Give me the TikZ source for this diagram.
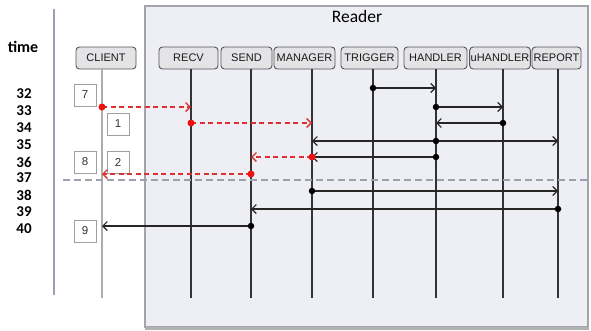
\documentclass[tikz,border=0pt]{standalone}
\usepackage{fontspec}
\setmainfont{Liberation Sans}
\newfontfamily\labelfont{Carlito}
\usetikzlibrary{arrows.meta}
\definecolor{readerfill}{HTML}{EEEFF4}
\definecolor{readerline}{HTML}{A4A4A8}
\definecolor{hdrfill}{HTML}{E4E4E6}
\definecolor{hdrline}{HTML}{55555A}
\definecolor{msgred}{HTML}{DD3030}
\definecolor{dotred}{HTML}{EE1111}
\definecolor{lifeline}{HTML}{333336}
\definecolor{axisbar}{HTML}{9AA0B2}
\definecolor{sepgray}{HTML}{A0A0AC}
\tikzset{
  hdr/.style={draw=hdrline, fill=hdrfill, rounded corners=3.5pt, line width=0.9pt,
    minimum height=22pt, inner sep=1pt, text=black!90, font=\fontsize{11}{12}\selectfont},
  numbox/.style={draw=gray!75, fill=white, line width=0.8pt, minimum width=22pt,
    minimum height=22pt, inner sep=0pt, text=black!80, font=\fontsize{11.5}{12}\selectfont},
  tick/.style={font=\labelfont\bfseries\fontsize{15}{16}\selectfont},
  life/.style={draw=lifeline, line width=1.2pt},
  msg/.style={draw=black!85, line width=1.1pt, -{Straight Barb[length=4.5pt,width=9pt]}},
  redmsg/.style={draw=msgred, line width=1.4pt, dash pattern=on 5pt off 3.5pt,
    -{Straight Barb[length=4.5pt,width=9pt]}},
  bothmsg/.style={draw=black!85, line width=1.1pt,
    {Straight Barb[length=4.5pt,width=9pt]}-{Straight Barb[length=4.5pt,width=9pt]}},
  dot/.style={circle, fill=black, inner sep=0pt, minimum size=6.5pt},
  reddot/.style={circle, fill=dotred, inner sep=0pt, minimum size=7pt},
}
\begin{document}
\begin{tikzpicture}[x=1pt,y=-1pt]
\useasboundingbox (0,0) rectangle (591,330);
\fill[white] (0,0) rectangle (591,330);

% Reader container
\draw[fill=readerfill, draw=readerline, line width=1.2pt] (145,6) rectangle (588,327);
\draw[readerline!85, line width=2.5pt] (145,328.5) -- (589,328.5);
\node[font=\labelfont\fontsize{17.5}{18}\selectfont] (reader) at (357,16) {Reader};

% time axis
\node[font=\labelfont\bfseries\fontsize{16}{17}\selectfont] (time) at (23,47) {time};
\draw[axisbar, line width=2.8pt] (54,9) -- (54,295);
\foreach \t/\y in {32/94,33/111,34/128,35/145,36/162,37/178,38/195,39/212,40/229}
  \node[tick] (t\t) at (24,\y) {\t};

% participants
\node[hdr, minimum width=60pt] (hCLIENT)   at (106,58)   {CLIENT};
\node[hdr, minimum width=59pt] (hRECV)     at (188.5,58) {RECV};
\node[hdr, minimum width=51pt] (hSEND)     at (246.5,58) {SEND};
\node[hdr, minimum width=61pt] (hMANAGER)  at (304.5,58) {MANAGER};
\node[hdr, minimum width=57pt] (hTRIGGER)  at (369.5,58) {TRIGGER};
\node[hdr, minimum width=63pt] (hHANDLER)  at (435.5,58) {HANDLER};
\node[hdr, minimum width=60pt] (huHANDLER) at (500,58)   {uHANDLER};
\node[hdr, minimum width=49pt] (hREPORT)   at (556.5,58) {REPORT};

% lifeline x positions
\coordinate (CLIENT)   at (102,0);
\coordinate (RECV)     at (191,0);
\coordinate (SEND)     at (251,0);
\coordinate (MANAGER)  at (312,0);
\coordinate (TRIGGER)  at (373,0);
\coordinate (HANDLER)  at (436,0);
\coordinate (uHANDLER) at (503,0);
\coordinate (REPORT)   at (558,0);

% rows
\coordinate (top) at (0,69);
\coordinate (bot) at (0,298);
\coordinate (r32) at (0,88);
\coordinate (r33) at (0,107);
\coordinate (r34) at (0,123);
\coordinate (r35) at (0,141);
\coordinate (r36) at (0,157);
\coordinate (r37) at (0,174);
\coordinate (r38) at (0,191);
\coordinate (r39) at (0,209);
\coordinate (r40) at (0,226);

% lifelines
\draw[gray!65, line width=2pt] (CLIENT |- top) -- (CLIENT |- bot);
\foreach \p in {RECV,SEND,MANAGER,TRIGGER,HANDLER,uHANDLER,REPORT}
  \draw[life] (\p |- top) -- (\p |- bot);

% step numbers
\node[numbox] (n7) at (85,95)  {7};
\node[numbox] (n1) at (118,124) {1};
\node[numbox] (n8) at (85,162) {8};
\node[numbox] (n2) at (118,162) {2};
\node[numbox] (n9) at (85,231) {9};

% separator
\coordinate (sepL) at (63,180);
\coordinate (sepR) at (588,180);
\draw[sepgray, line width=1.3pt, dash pattern=on 7pt off 4pt] (sepL) -- (sepR);

% black messages
\draw[msg] (TRIGGER |- r32) -- (HANDLER |- r32);
\node[dot] at (TRIGGER |- r32) {};
\draw[msg] (HANDLER |- r33) -- (uHANDLER |- r33);
\node[dot] at (HANDLER |- r33) {};
\draw[msg] (uHANDLER |- r34) -- (HANDLER |- r34);
\node[dot] at (uHANDLER |- r34) {};
\draw[bothmsg] (MANAGER |- r35) -- (REPORT |- r35);
\node[dot] at (HANDLER |- r35) {};
\draw[msg] (HANDLER |- r36) -- (MANAGER |- r36);
\node[dot] at (HANDLER |- r36) {};
\draw[msg] (MANAGER |- r38) -- (REPORT |- r38);
\node[dot] at (MANAGER |- r38) {};
\draw[msg] (REPORT |- r39) -- (SEND |- r39);
\node[dot] at (REPORT |- r39) {};
\draw[msg] (SEND |- r40) -- (CLIENT |- r40);
\node[dot] at (SEND |- r40) {};

% red dashed messages
\draw[redmsg] (CLIENT |- r33) -- (RECV |- r33);
\node[reddot] at (CLIENT |- r33) {};
\draw[redmsg] (RECV |- r34) -- (MANAGER |- r34);
\node[reddot] at (RECV |- r34) {};
\draw[redmsg] (MANAGER |- r36) -- (SEND |- r36);
\node[reddot] at (MANAGER |- r36) {};
\draw[redmsg] (SEND |- r37) -- (CLIENT |- r37);
\node[reddot] at (SEND |- r37) {};
\end{tikzpicture}
\end{document}
